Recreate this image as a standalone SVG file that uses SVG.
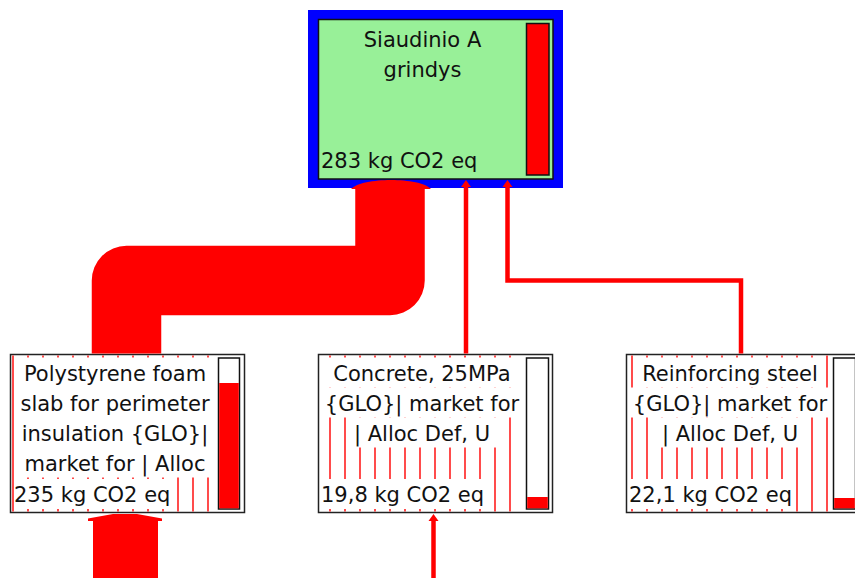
<svg xmlns="http://www.w3.org/2000/svg" width="855" height="578" viewBox="0 0 855 578">
<style>
.t{font-family:"DejaVu Sans",Verdana,sans-serif;font-size:21px;fill:#111}
.c{text-anchor:middle}
.box{fill:#fff;stroke:#222;stroke-width:1.5}
.bg{fill:#fff}
.hatch{stroke:#f00;stroke-width:1.4;fill:none}
.bar{fill:#fff;stroke:#111;stroke-width:1.5}
.barfill{fill:#f00}
.flow{stroke:#f00;fill:none}
.head{fill:#f00}
</style>
<rect width="855" height="578" fill="#fff"/>
<g id="node-siaudinio">
  <rect x="308" y="10" width="255" height="178" fill="#0000ff"/>
  <rect x="318.5" y="19.5" width="234.5" height="159.5" fill="#98f098" stroke="#111" stroke-width="1.5"/>
  <rect class="barfill" x="526.5" y="23.5" width="22.5" height="151.5" stroke="#111" stroke-width="1.5"/>
  <text class="t c" x="422.5" y="47">Siaudinio A</text>
  <text class="t c" x="422.5" y="77">grindys</text>
  <text class="t" x="321" y="168">283 kg CO2 eq</text>
</g>
<g id="node-polystyrene">
  <rect class="box" x="10.5" y="354.5" width="234" height="158"/>
  <path class="hatch" d="M13,355.5V511.5M28,355.5V511.5M43,355.5V511.5M58,355.5V511.5M73,355.5V511.5M88,355.5V511.5M103,355.5V511.5M118,355.5V511.5M133,355.5V511.5M148,355.5V511.5M163,355.5V511.5M178,355.5V511.5M193,355.5V511.5M208,355.5V511.5"/>
  <rect class="bg" x="18" y="357.5" width="194" height="120"/>
  <rect class="bg" x="14.5" y="479" width="158" height="30"/>
  <rect class="bar" x="218.5" y="358" width="21" height="151"/>
  <rect class="barfill" x="219.2" y="383" width="19.6" height="125.3"/>
  <text class="t c" x="115" y="381">Polystyrene foam</text>
  <text class="t c" x="115" y="411">slab for perimeter</text>
  <text class="t c" x="115" y="441">insulation {GLO}|</text>
  <text class="t c" x="115" y="471">market for | Alloc</text>
  <text class="t" x="14" y="502">235 kg CO2 eq</text>
</g>
<g id="node-concrete">
  <rect class="box" x="318.5" y="354.5" width="234" height="158"/>
  <path class="hatch" d="M330,355.5V511.5M345,355.5V511.5M360,355.5V511.5M375,355.5V511.5M390,355.5V511.5M405,355.5V511.5M420,355.5V511.5M435,355.5V511.5M450,355.5V511.5M465,355.5V511.5M480,355.5V511.5M495,355.5V511.5M510,355.5V511.5"/>
  <rect class="bg" x="327" y="357.5" width="190" height="30"/>
  <rect class="bg" x="321" y="387.5" width="202" height="30"/>
  <rect class="bg" x="349" y="417.5" width="149" height="30"/>
  <rect class="bg" x="320" y="479" width="169" height="30"/>
  <rect class="bar" x="526.5" y="358" width="22" height="151"/>
  <rect class="barfill" x="527.2" y="497" width="20.6" height="11.3"/>
  <text class="t c" x="422" y="381">Concrete, 25MPa</text>
  <text class="t c" x="422" y="411">{GLO}| market for</text>
  <text class="t c" x="422" y="441">| Alloc Def, U</text>
  <text class="t" x="321" y="502">19,8 kg CO2 eq</text>
</g>
<g id="node-steel">
  <rect class="box" x="626.5" y="354.5" width="234" height="158"/>
  <path class="hatch" d="M632,355.5V511.5M647,355.5V511.5M662,355.5V511.5M677,355.5V511.5M692,355.5V511.5M707,355.5V511.5M722,355.5V511.5M737,355.5V511.5M752,355.5V511.5M767,355.5V511.5M782,355.5V511.5M797,355.5V511.5M812,355.5V511.5M827,355.5V511.5"/>
  <rect class="bg" x="637" y="357.5" width="185" height="30"/>
  <rect class="bg" x="630" y="387.5" width="199.5" height="30"/>
  <rect class="bg" x="654" y="417.5" width="151" height="30"/>
  <rect class="bg" x="628.5" y="479" width="166.5" height="30"/>
  <rect class="bar" x="833.5" y="358" width="22" height="151"/>
  <rect class="barfill" x="834.2" y="498" width="20.6" height="10.3"/>
  <text class="t c" x="730" y="381">Reinforcing steel</text>
  <text class="t c" x="730" y="411">{GLO}| market for</text>
  <text class="t c" x="730" y="441">| Alloc Def, U</text>
  <text class="t" x="629" y="502">22,1 kg CO2 eq</text>
</g>
<g id="connectors">
  <path class="flow" d="M390,188V280.5H126.5V353.5" stroke-width="69.5" stroke-linejoin="round"/>
  <path class="head" d="M351,189C362,177 420,177 431,189Z"/>
  <path class="flow" d="M466,353.5V186" stroke-width="4.5"/>
  <polygon class="head" points="461,187 466,180 471,187"/>
  <path class="flow" d="M741,353.5V280.5H507.5V186" stroke-width="4.5" stroke-linejoin="miter"/>
  <polygon class="head" points="502.5,187 507.5,180 512.5,187"/>
  <path class="head" d="M113,514H137L162,518.5V521H88V518.5Z"/>
  <rect class="head" x="93" y="520" width="65" height="58"/>
  <path class="flow" d="M433.5,578V520" stroke-width="4.5"/>
  <polygon class="head" points="428.5,521 433.5,514 438.5,521"/>
</g>
</svg>
